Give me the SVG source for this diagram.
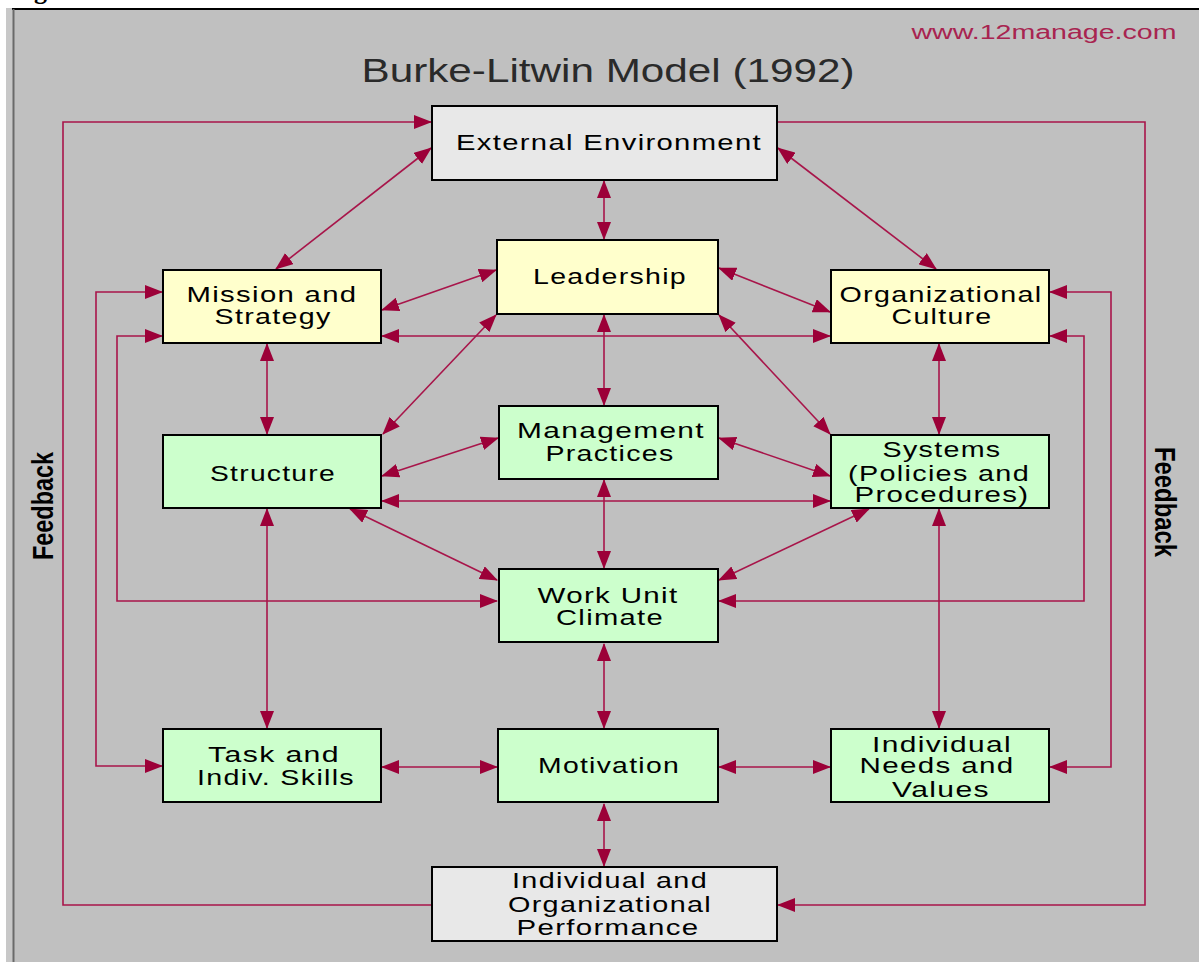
<svg xmlns="http://www.w3.org/2000/svg" width="1199" height="962" viewBox="0 0 1199 962">
<style>
.box{stroke:#000;stroke-width:2}
.y{fill:#ffffcc}.g{fill:#ccffcc}.w{fill:#e8e8e8}
.t{font-family:"Liberation Sans",Arial,sans-serif;font-size:22px;fill:#000;text-anchor:middle;letter-spacing:1px}
.c path{fill:none;stroke:#a8154a;stroke-width:1.6}
.fb{font-family:"Liberation Sans",Arial,sans-serif;font-size:29px;font-weight:bold;fill:#000;text-anchor:middle}
</style>
<defs>
<marker id="a" viewBox="0 0 18 14" markerWidth="18" markerHeight="14" refX="17" refY="7" orient="auto-start-reverse" markerUnits="userSpaceOnUse">
<path d="M0,0 L18,7 L0,14 z" fill="#9c0038"/>
</marker>
</defs>
<rect x="0" y="0" width="1199" height="962" fill="#fff"/>
<rect x="6" y="8" width="1193" height="954" fill="#c8c8c8"/>
<rect x="13" y="9" width="1186" height="953" fill="#c0c0c0"/>
<line x1="12" y1="9" x2="1199" y2="9" stroke="#000" stroke-width="2"/>
<line x1="13.5" y1="9" x2="13.5" y2="962" stroke="#6a6a6a" stroke-width="2"/>
<text x="34" y="-1" font-family="Liberation Serif,serif" font-weight="bold" font-size="26" fill="#000">g</text>
<text x="608" y="82" font-family="Liberation Sans,Arial,sans-serif" font-size="34" fill="#2a2a2a" text-anchor="middle" textLength="493" lengthAdjust="spacingAndGlyphs">Burke-Litwin Model (1992)</text>
<text x="1044" y="39" font-family="Liberation Sans,Arial,sans-serif" font-size="20" fill="#a82450" text-anchor="middle" textLength="265" lengthAdjust="spacingAndGlyphs">www.12manage.com</text>

<g class="c" id="connectors">
<path d="M432,905 H63 V122 H431" marker-end="url(#a)"/>
<path d="M777,122 H1145 V905 H778" marker-end="url(#a)"/>
<path d="M162,292 H96 V766 H162" marker-start="url(#a)" marker-end="url(#a)"/>
<path d="M162,336 H117 V601 H497" marker-start="url(#a)" marker-end="url(#a)"/>
<path d="M1050,292 H1111 V767 H1050" marker-start="url(#a)" marker-end="url(#a)"/>
<path d="M1050,336 H1084 V601 H719" marker-start="url(#a)" marker-end="url(#a)"/>
<path d="M604,181 V239" marker-start="url(#a)" marker-end="url(#a)"/>
<path d="M604,315 V405" marker-start="url(#a)" marker-end="url(#a)"/>
<path d="M604,480 V568" marker-start="url(#a)" marker-end="url(#a)"/>
<path d="M604,644 V728" marker-start="url(#a)" marker-end="url(#a)"/>
<path d="M604,804 V866" marker-start="url(#a)" marker-end="url(#a)"/>
<path d="M267,344 V434" marker-start="url(#a)" marker-end="url(#a)"/>
<path d="M267,509 V728" marker-start="url(#a)" marker-end="url(#a)"/>
<path d="M939,344 V434" marker-start="url(#a)" marker-end="url(#a)"/>
<path d="M939,509 V728" marker-start="url(#a)" marker-end="url(#a)"/>
<path d="M382,336 H830" marker-start="url(#a)" marker-end="url(#a)"/>
<path d="M382,501 H830" marker-start="url(#a)" marker-end="url(#a)"/>
<path d="M382,767 H497" marker-start="url(#a)" marker-end="url(#a)"/>
<path d="M719,767 H830" marker-start="url(#a)" marker-end="url(#a)"/>
<path d="M431,148 L276,269" marker-start="url(#a)" marker-end="url(#a)"/>
<path d="M778,148 L936,269" marker-start="url(#a)" marker-end="url(#a)"/>
<path d="M496,270 L382,310" marker-start="url(#a)" marker-end="url(#a)"/>
<path d="M719,268 L830,312" marker-start="url(#a)" marker-end="url(#a)"/>
<path d="M496,315 L383,434" marker-start="url(#a)" marker-end="url(#a)"/>
<path d="M719,315 L830,434" marker-start="url(#a)" marker-end="url(#a)"/>
<path d="M498,438 L382,476" marker-start="url(#a)" marker-end="url(#a)"/>
<path d="M719,438 L830,476" marker-start="url(#a)" marker-end="url(#a)"/>
<path d="M350,509 L497,580" marker-start="url(#a)" marker-end="url(#a)"/>
<path d="M869,509 L719,580" marker-start="url(#a)" marker-end="url(#a)"/>
</g>

<g id="external-environment">
<rect class="box w" x="432" y="106" width="345" height="74"/>
<text class="t" x="609" y="150" textLength="306" lengthAdjust="spacingAndGlyphs">External Environment</text>
</g>
<g id="leadership">
<rect class="box y" x="497" y="240" width="221" height="74"/>
<text class="t" x="610" y="284" textLength="154" lengthAdjust="spacingAndGlyphs">Leadership</text>
</g>
<g id="mission-strategy">
<rect class="box y" x="163" y="270" width="218" height="73"/>
<text class="t" x="272" y="302" textLength="171" lengthAdjust="spacingAndGlyphs">Mission and</text>
<text class="t" x="273" y="324" textLength="117" lengthAdjust="spacingAndGlyphs">Strategy</text>
</g>
<g id="organizational-culture">
<rect class="box y" x="831" y="270" width="218" height="73"/>
<text class="t" x="941" y="302" textLength="203" lengthAdjust="spacingAndGlyphs">Organizational</text>
<text class="t" x="942" y="324" textLength="101" lengthAdjust="spacingAndGlyphs">Culture</text>
</g>
<g id="management-practices">
<rect class="box g" x="499" y="406" width="219" height="73"/>
<text class="t" x="611" y="438" textLength="188" lengthAdjust="spacingAndGlyphs">Management</text>
<text class="t" x="610" y="461" textLength="129" lengthAdjust="spacingAndGlyphs">Practices</text>
</g>
<g id="structure">
<rect class="box g" x="163" y="435" width="218" height="73"/>
<text class="t" x="273" y="481" textLength="126" lengthAdjust="spacingAndGlyphs">Structure</text>
</g>
<g id="systems">
<rect class="box g" x="831" y="435" width="218" height="73"/>
<text class="t" x="942" y="457" textLength="119" lengthAdjust="spacingAndGlyphs">Systems</text>
<text class="t" x="939" y="481" textLength="182" lengthAdjust="spacingAndGlyphs">(Policies and</text>
<text class="t" x="942" y="502" textLength="175" lengthAdjust="spacingAndGlyphs">Procedures)</text>
</g>
<g id="work-unit-climate">
<rect class="box g" x="499" y="569" width="219" height="73"/>
<text class="t" x="608" y="603" textLength="141" lengthAdjust="spacingAndGlyphs">Work Unit</text>
<text class="t" x="610" y="625" textLength="108" lengthAdjust="spacingAndGlyphs">Climate</text>
</g>
<g id="task-skills">
<rect class="box g" x="163" y="729" width="218" height="73"/>
<text class="t" x="274" y="762" textLength="132" lengthAdjust="spacingAndGlyphs">Task and</text>
<text class="t" x="276" y="785" textLength="158" lengthAdjust="spacingAndGlyphs">Indiv. Skills</text>
</g>
<g id="motivation">
<rect class="box g" x="498" y="729" width="220" height="73"/>
<text class="t" x="609" y="773" textLength="142" lengthAdjust="spacingAndGlyphs">Motivation</text>
</g>
<g id="individual-needs">
<rect class="box g" x="831" y="729" width="218" height="73"/>
<text class="t" x="942" y="752" textLength="140" lengthAdjust="spacingAndGlyphs">Individual</text>
<text class="t" x="937" y="773" textLength="155" lengthAdjust="spacingAndGlyphs">Needs and</text>
<text class="t" x="941" y="797" textLength="98" lengthAdjust="spacingAndGlyphs">Values</text>
</g>
<g id="performance">
<rect class="box w" x="432" y="867" width="345" height="74"/>
<text class="t" x="610" y="888" textLength="196" lengthAdjust="spacingAndGlyphs">Individual and</text>
<text class="t" x="610" y="912" textLength="204" lengthAdjust="spacingAndGlyphs">Organizational</text>
<text class="t" x="608" y="935" textLength="183" lengthAdjust="spacingAndGlyphs">Performance</text>
</g>
<g id="feedback-labels">
<text class="fb" transform="translate(53,506) rotate(-90)" textLength="108" lengthAdjust="spacingAndGlyphs">Feedback</text>
<text class="fb" transform="translate(1155,502) rotate(90)" textLength="110" lengthAdjust="spacingAndGlyphs">Feedback</text>
</g>
</svg>
